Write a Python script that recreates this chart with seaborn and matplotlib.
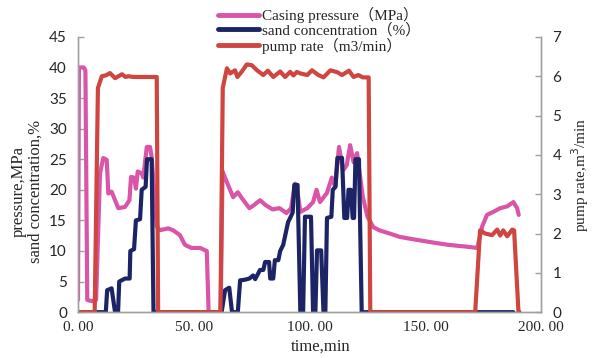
import matplotlib
matplotlib.use("Agg")
import matplotlib.pyplot as plt
import matplotlib.transforms as mtransforms
import seaborn as sns
import pandas as pd

# time (min) / casing pressure (MPa)
press_t = [0, 0.4, 2.5, 3.2, 4.0, 6.0, 7.8, 9.5, 10.9, 12.4, 13.1, 14.5, 16.0, 17.4,
           20.3, 22.2, 22.9, 24.2, 25.0, 25.8, 27.5, 28.2, 29.7, 31.1, 31.8, 34.0,
           35.4, 39.0, 41.0, 44.0, 46.2, 49.0, 52.7, 55.0, 55.6, 56.4, 61.6, 62.4,
           64.0, 67.0, 69.0, 71.0, 74.0, 76.0, 78.6, 81.0, 84.0, 87.0, 90.0,
           92.0, 93.7, 95.0, 96.0, 99.0, 101.5, 103.0, 104.5, 107.5, 109.6, 111.0,
           112.7, 114.5, 116.0, 117.5, 119.0, 120.5, 121.5, 123.0, 125.0, 127.5,
           130.0, 135.0, 139.0, 145.0, 153.0, 160.0, 168.0, 172.4, 174.5, 176.6,
           179.3, 182.3, 185.3, 188.0, 189.6, 190.3]
press_v = [2.0, 40.0, 40.0, 39.5, 2.0, 1.8, 2.0, 22.7, 25.2, 24.9, 19.4, 19.7, 18.3, 17.0,
           17.2, 18.3, 22.1, 22.0, 20.2, 23.0, 22.7, 22.0, 27.0, 27.0, 25.4, 14.0,
           13.4, 13.7, 13.4, 12.6, 11.0, 10.5, 10.5, 10.1, 10.0, 0.0, 0.0, 23.0,
           21.5, 18.8, 19.6, 18.5, 17.0, 17.5, 18.3, 17.5, 16.8, 17.0, 16.2,
           17.0, 21.0, 19.0, 16.4, 17.0, 18.0, 20.0, 18.0, 19.5, 22.0, 20.5,
           27.0, 23.2, 24.0, 27.3, 24.5, 26.0, 23.0, 18.8, 15.6, 13.9,
           13.4, 12.8, 12.3, 11.9, 11.4, 11.0, 10.7, 10.5, 14.0, 15.9,
           16.4, 17.0, 17.3, 18.0, 17.0, 15.9]

# time (min) / sand concentration (%)
sand_t = [0, 12.0, 12.6, 14.5, 16.0, 17.3, 17.8, 20.3, 22.3, 22.6, 24.2, 25.0, 26.8,
          27.5, 29.2, 29.8, 31.8, 32.6, 62.0, 63.5, 65.3, 66.5, 69.0, 70.0, 72.0,
          74.0, 75.6, 76.5, 78.6, 80.0, 80.8, 82.5, 83.0, 84.3, 85.0, 86.5, 87.3,
          88.6, 90.7, 91.6, 92.7, 93.4, 94.8, 96.0, 97.2, 98.0, 100.6, 101.5, 102.5,
          103.2, 105.0, 106.0, 106.8, 107.5, 109.4, 110.0, 111.2, 112.0, 114.0,
          115.0, 116.2, 116.8, 117.8, 118.6, 119.2, 119.8, 121.3, 122.5, 188.0]
sand_v = [0, 0, 3.6, 3.9, 0, 0, 5.0, 5.5, 5.5, 10.0, 10.3, 15.0, 15.2,
          20.0, 20.5, 25.0, 25.0, 0, 0, 3.6, 4.0, 0, 0, 5.2, 5.3,
          5.5, 6.0, 5.4, 6.9, 6.9, 8.2, 8.2, 5.5, 5.5, 8.5, 8.5, 10.0,
          11.0, 14.7, 15.4, 16.3, 20.8, 20.8, 0, 0, 15.6, 15.6, 0, 0,
          10.1, 10.1, 0, 0, 15.4, 15.6, 20.0, 20.5, 25.2, 25.2,
          15.4, 15.4, 20.0, 20.0, 15.4, 15.4, 25.0, 25.0, 0, 0]

# time (min) / pump rate (m3/min)
pump_t = [0, 7.2, 8.6, 10.3, 12.0, 13.8, 16.0, 17.5, 19.0, 20.5, 21.7, 24.0, 34.0, 34.6,
          61.5, 62.5, 64.3, 65.7, 67.8, 68.8, 70.5, 72.9, 75.0, 77.3, 80.0, 82.0,
          84.3, 87.3, 89.4, 91.6, 93.0, 94.5, 96.0, 99.0, 101.0, 103.8, 106.0, 109.0,
          112.0, 114.0, 117.0, 119.0, 121.0, 123.0, 125.5, 126.2, 171.5, 173.6,
          175.8, 178.8, 181.0, 182.3, 183.6, 185.3, 187.5, 188.3, 190.2, 190.6]
pump_v = [0, 0, 5.7, 6.0, 6.02, 6.08, 5.95, 6.0, 6.05, 5.98, 6.0, 5.98, 5.98, 0,
          0, 5.7, 6.2, 6.07, 6.15, 5.98, 6.1, 6.3, 6.28, 6.15, 6.03, 6.14,
          5.98, 6.12, 5.98, 6.11, 6.02, 6.11, 6.07, 6.03, 6.15, 6.03, 5.97, 6.15,
          6.1, 6.03, 6.14, 5.98, 6.03, 5.97, 5.97, 0, 0, 2.08,
          2.0, 1.96, 2.1, 1.95, 2.08, 1.93, 2.1, 2.08, 0, 0]

series_labels = ["Casing pressure（MPa）", "sand concentration（%）", "pump rate（m3/min）"]
series_colors = ["#d955a8", "#1c2466", "#cf4540"]
xtick_vals = [0, 50, 100, 150, 200]
xtick_labels = ["0. 00", "50. 00", "100. 00", "150. 00", "200. 00"]

df_p = pd.DataFrame({"time": press_t, "value": press_v})
df_s = pd.DataFrame({"time": sand_t, "value": sand_v})
df_q = pd.DataFrame({"time": pump_t, "value": pump_v})

sns.set_theme(style="white")
serif = ["Liberation Serif", "Noto Sans CJK SC"]
plt.rcParams["font.family"] = serif

fig, ax = plt.subplots(figsize=(6, 3.58), dpi=100)
fig.subplots_adjust(left=0.13, right=0.902, bottom=0.128, top=0.897)

sns.lineplot(data=df_p, x="time", y="value", estimator=None, sort=False,
             color=series_colors[0], lw=3, ax=ax, legend=False)
sns.lineplot(data=df_s, x="time", y="value", estimator=None, sort=False,
             color=series_colors[1], lw=3, ax=ax, legend=False)
ax2 = ax.twinx()
sns.lineplot(data=df_q, x="time", y="value", estimator=None, sort=False,
             color=series_colors[2], lw=3, ax=ax2, legend=False)

ax.set_xlim(0, 200)
ax.set_ylim(0, 45)
ax2.set_ylim(0, 7)
ax.set_xticks(xtick_vals)
ax.set_xticklabels(xtick_labels, family=serif, fontsize=11)
# labels sit a little left of their ticks in the original
shift = mtransforms.ScaledTranslation(-5 / 100, 0, fig.dpi_scale_trans)
for lab in ax.get_xticklabels():
    lab.set_transform(lab.get_transform() + shift)
ax.set_yticks(range(0, 46, 5))
ax2.set_yticks(range(0, 8))
for a in (ax, ax2):
    for lab in a.get_yticklabels():
        lab.set_family("Lato")
        lab.set_fontsize(11)
    a.tick_params(direction="in", length=4, width=1, color="#a0a0a0", pad=8)
    for side in a.spines:
        a.spines[side].set_color("#a0a0a0")
        a.spines[side].set_linewidth(1)
    a.spines["top"].set_visible(False)
ax.tick_params(axis="x", pad=6)

ax.set_xlabel("time,min", fontsize=12)
ax.xaxis.set_label_coords(0.523, -0.095)
ax.set_ylabel("pressure,MPa\nsand concentration,%", fontsize=12, linespacing=1.05)
ax.yaxis.set_label_coords(-0.075, 0.44)
ax2.set_ylabel("pump rate,m$^3$/min", fontsize=11, labelpad=6)

handles = ax.get_lines()[:2] + ax2.get_lines()[:1]
fig.legend(handles, series_labels, loc="upper left", bbox_to_anchor=(0.345, 1.01),
           frameon=False, fontsize=11, handlelength=2.7, handletextpad=0.2,
           labelspacing=0.0, borderpad=0.2)
for line in fig.legends[0].get_lines():
    line.set_linewidth(3.5)

fig.savefig("out.png", dpi=100)
